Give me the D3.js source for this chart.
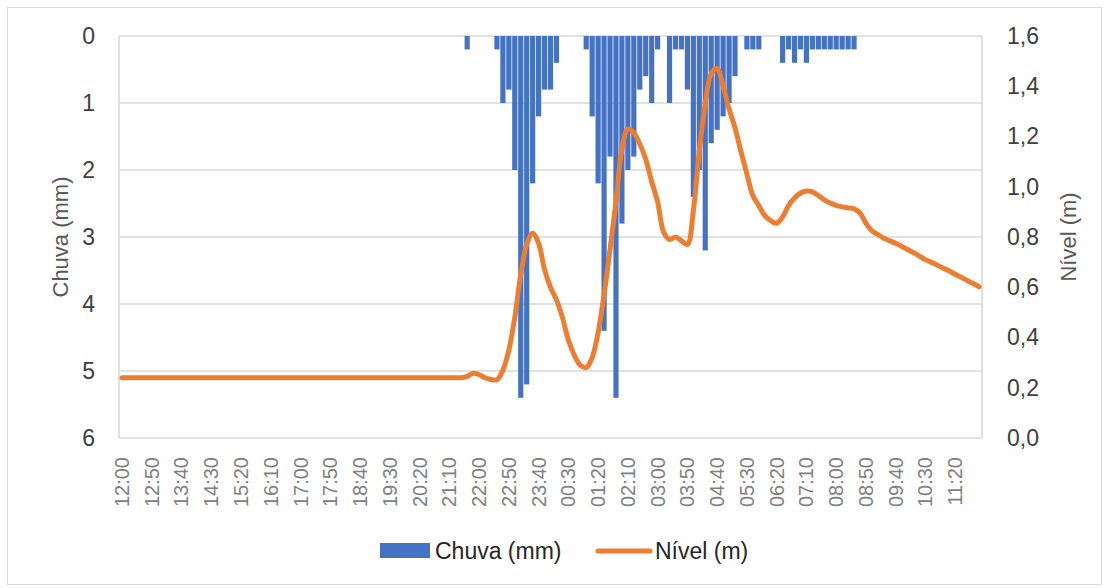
<!DOCTYPE html>
<html><head><meta charset="utf-8">
<script src="https://cdn.jsdelivr.net/npm/d3@7"></script>
<style>body{margin:0;background:#fff} svg{display:block}</style>
</head><body><svg id="c" width="1109" height="588"></svg>
<script>
const categories = [
"12:00","12:10","12:20","12:30","12:40","12:50","13:00","13:10","13:20","13:30","13:40","13:50",
"14:00","14:10","14:20","14:30","14:40","14:50","15:00","15:10","15:20","15:30","15:40","15:50",
"16:00","16:10","16:20","16:30","16:40","16:50","17:00","17:10","17:20","17:30","17:40","17:50",
"18:00","18:10","18:20","18:30","18:40","18:50","19:00","19:10","19:20","19:30","19:40","19:50",
"20:00","20:10","20:20","20:30","20:40","20:50","21:00","21:10","21:20","21:30","21:40","21:50",
"22:00","22:10","22:20","22:30","22:40","22:50","23:00","23:10","23:20","23:30","23:40","23:50",
"00:00","00:10","00:20","00:30","00:40","00:50","01:00","01:10","01:20","01:30","01:40","01:50",
"02:00","02:10","02:20","02:30","02:40","02:50","03:00","03:10","03:20","03:30","03:40","03:50",
"04:00","04:10","04:20","04:30","04:40","04:50","05:00","05:10","05:20","05:30","05:40","05:50",
"06:00","06:10","06:20","06:30","06:40","06:50","07:00","07:10","07:20","07:30","07:40","07:50",
"08:00","08:10","08:20","08:30","08:40","08:50","09:00","09:10","09:20","09:30","09:40","09:50",
"10:00","10:10","10:20","10:30","10:40","10:50","11:00","11:10","11:20","11:30","11:40","11:50",
"12:00"];

// Chuva (mm) per 10-minute interval
const chuva = [
0,0,0,0,0,0,0,0,0,0,0,0,
0,0,0,0,0,0,0,0,0,0,0,0,
0,0,0,0,0,0,0,0,0,0,0,0,
0,0,0,0,0,0,0,0,0,0,0,0,
0,0,0,0,0,0,0,0,0,0,0.2,0,
0,0,0,0.2,1.0,0.8,2.0,5.4,5.2,2.2,1.2,0.8,
0.8,0.4,0,0,0,0,0.2,1.2,2.2,4.4,1.8,5.4,
2.8,2.0,1.8,0.8,0.6,1.0,0.2,0,1.0,0.2,0.2,0.8,
2.4,2.0,3.2,1.6,1.4,1.2,1.0,0.6,0,0.2,0.2,0.2,
0,0,0,0.4,0.2,0.4,0.2,0.4,0.2,0.2,0.2,0.2,
0.2,0.2,0.2,0.2,0,0,0,0,0,0,0,0,
0,0,0,0,0,0,0,0,0,0,0,0,
0];

// Nível (m)
const nivel = [
0.24,0.24,0.24,0.24,0.24,0.24,0.24,0.24,0.24,0.24,0.24,0.24,
0.24,0.24,0.24,0.24,0.24,0.24,0.24,0.24,0.24,0.24,0.24,0.24,
0.24,0.24,0.24,0.24,0.24,0.24,0.24,0.24,0.24,0.24,0.24,0.24,
0.24,0.24,0.24,0.24,0.24,0.24,0.24,0.24,0.24,0.24,0.24,0.24,
0.24,0.24,0.24,0.24,0.24,0.24,0.24,0.24,0.24,0.24,0.245,0.258,
0.252,0.24,0.233,0.232,0.27,0.35,0.48,0.65,0.77,0.815,0.775,0.67,
0.6,0.55,0.48,0.39,0.33,0.29,0.28,0.32,0.42,0.57,0.75,0.94,
1.15,1.23,1.215,1.17,1.11,1.02,0.94,0.82,0.79,0.80,0.785,0.77,
0.905,1.14,1.33,1.45,1.47,1.40,1.31,1.235,1.14,1.05,0.965,0.925,
0.885,0.865,0.855,0.88,0.925,0.955,0.975,0.983,0.98,0.965,0.948,0.935,
0.926,0.92,0.916,0.912,0.895,0.855,0.825,0.81,0.795,0.785,0.775,0.763,
0.75,0.738,0.724,0.71,0.699,0.688,0.676,0.665,0.652,0.64,0.627,0.615,
0.602];

const leftTicks = [0,1,2,3,4,5,6];
const rightTicks = [0,0.2,0.4,0.6,0.8,1.0,1.2,1.4,1.6];
const labelEvery = 5;

const svg = d3.select("#c");
const FONT = "'Liberation Sans', Arial, sans-serif";
const L = 119, R = 982, T = 36, B = 438;

svg.append("rect").attr("x",7.5).attr("y",7.5).attr("width",1094).attr("height",577)
  .attr("fill","#fff").attr("stroke","#d9d9d9").attr("stroke-width",1);

const idx = d3.range(categories.length);
const x = d3.scaleBand().domain(idx).range([L,R]).paddingInner(0.13).paddingOuter(0.065);
const yL = d3.scaleLinear().domain([0,6]).range([T,B]);
const yR = d3.scaleLinear().domain([0,1.6]).range([B,T]);

// gridlines
svg.append("g").selectAll("line").data(leftTicks).join("line")
  .attr("x1",L).attr("x2",R).attr("y1",d=>yL(d)).attr("y2",d=>yL(d))
  .attr("stroke","#d9d9d9").attr("stroke-width",1.6);
svg.append("g").selectAll("line").data([L,R]).join("line")
  .attr("x1",d=>d).attr("x2",d=>d).attr("y1",T).attr("y2",B)
  .attr("stroke","#d9d9d9").attr("stroke-width",1.6);

// bars
svg.append("g").selectAll("rect").data(idx.filter(i=>chuva[i]>0)).join("rect")
  .attr("x",i=>x(i)).attr("width",x.bandwidth())
  .attr("y",yL(0)).attr("height",i=>yL(chuva[i])-yL(0))
  .attr("fill","#4472C4");

// line
const line = d3.line().x(i=>x(i)+x.bandwidth()/2).y(i=>yR(nivel[i])).curve(d3.curveCatmullRom.alpha(0.5));
svg.append("path").datum(idx).attr("d",line).attr("fill","none")
  .attr("stroke","#ED7D31").attr("stroke-width",5).attr("stroke-linecap","round").attr("stroke-linejoin","round");

// left axis
const gl = svg.append("g").attr("transform",`translate(${L},0)`)
  .call(d3.axisLeft(yL).tickValues(leftTicks).tickSize(0).tickPadding(24).tickFormat(d3.format("d")));
gl.select(".domain").remove();
gl.selectAll("text").attr("font-family",FONT).attr("font-size",23).attr("fill","#404040");

// right axis
const gr = svg.append("g").attr("transform",`translate(${R},0)`)
  .call(d3.axisRight(yR).tickValues(rightTicks).tickSize(0).tickPadding(25).tickFormat(d=>d.toFixed(1).replace(".",",")));
gr.select(".domain").remove();
gr.selectAll("text").attr("font-family",FONT).attr("font-size",23).attr("fill","#404040");

// bottom axis
const gb = svg.append("g").attr("transform",`translate(0,${B})`)
  .call(d3.axisBottom(x).tickValues(idx.filter(i=>i%labelEvery===0 && i<=140)).tickSize(0).tickFormat(i=>categories[i]));
gb.select(".domain").remove();
gb.selectAll("text").attr("font-family",FONT).attr("font-size",20).attr("fill","#808080")
  .attr("transform","rotate(-90)").attr("x",-19).attr("y",0).attr("dy","0.35em").style("text-anchor","end");

// axis titles
svg.append("text").attr("transform",`translate(60,${(T+B)/2}) rotate(-90)`)
  .attr("text-anchor","middle").attr("dy","0.35em").attr("font-family",FONT).attr("font-size",22)
  .attr("fill","#595959").text("Chuva (mm)");
svg.append("text").attr("transform",`translate(1068,${(T+B)/2}) rotate(-90)`)
  .attr("text-anchor","middle").attr("dy","0.35em").attr("font-family",FONT).attr("font-size",22)
  .attr("fill","#595959").text("Nível (m)");

// legend
const lg = svg.append("g");
lg.append("rect").attr("x",380).attr("y",543).attr("width",50).attr("height",15).attr("fill","#4472C4");
lg.append("text").attr("x",435).attr("y",551).attr("dy","0.35em").attr("font-family",FONT).attr("font-size",23)
  .attr("fill","#262626").text("Chuva (mm)");
lg.append("line").attr("x1",598).attr("x2",650).attr("y1",551).attr("y2",551)
  .attr("stroke","#ED7D31").attr("stroke-width",5).attr("stroke-linecap","round");
lg.append("text").attr("x",655).attr("y",551).attr("dy","0.35em").attr("font-family",FONT).attr("font-size",23)
  .attr("fill","#262626").text("Nível (m)");
</script></body></html>
